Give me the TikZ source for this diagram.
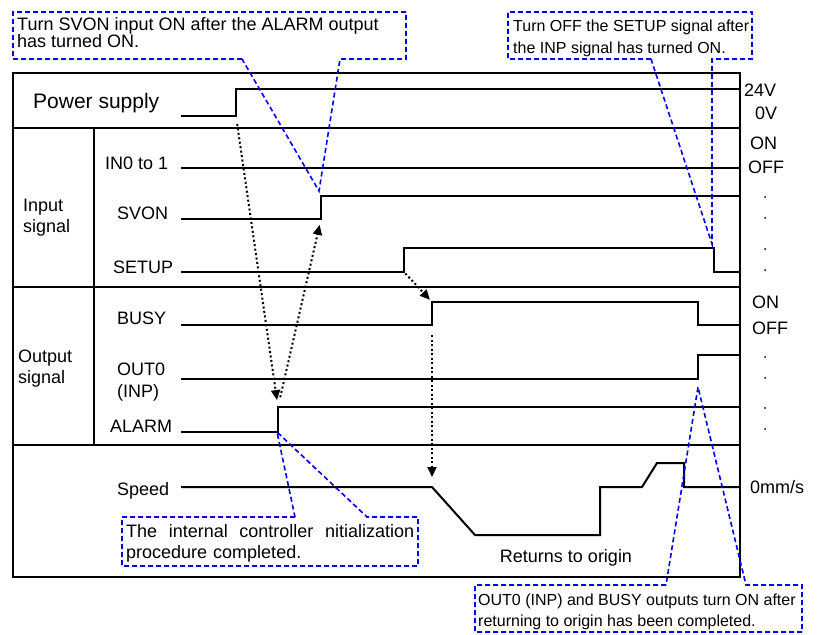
\documentclass[tikz,border=0pt]{standalone}
\usepackage{fontspec}
\setmainfont{Liberation Sans}
\usetikzlibrary{arrows.meta}

\begin{document}
\begin{tikzpicture}[x=1pt, y=-1pt,
    every node/.style={font=\fontsize{18}{21}\selectfont, inner sep=0pt},
    grouplabel/.style={anchor=base west, align=left},
    siglabel/.style={anchor=base west},
    levellabel/.style={anchor=base west},
    frameline/.style={line width=2pt},
    sigline/.style={line width=2pt},
    dotarrow/.style={line width=2pt, dash pattern=on 2pt off 2.5pt, -{Triangle[length=10pt, width=9pt]}},
    callout/.style={draw=blue, line width=1.6pt, dash pattern=on 5pt off 3pt},
    notetext/.style={anchor=base west, align=left},
]
\useasboundingbox (0,0) rectangle (818,634);
% frame and rows
\draw[frameline] (13,73) rectangle (740,577);
\foreach \y in {128,287,445}
    \draw[frameline] (13,\y) -- (740,\y);
\draw[frameline] (94,128) -- (94,445);
\node[grouplabel, font=\fontsize{21}{24}\selectfont] (power) at (33,108) {Power supply};
\node[grouplabel] (input) at (23,232) {Input\\signal};
\node[grouplabel] (output) at (18,383) {Output\\signal};
\node[siglabel] (in01) at (105,169) {IN0 to 1};
\node[siglabel] (svon) at (117,219) {SVON};
\node[siglabel] (setup) at (113,273) {SETUP};
\node[siglabel] (busy) at (117,324) {BUSY};
\node[siglabel, align=left, font=\fontsize{18}{22}\selectfont] (out0) at (117,397) {OUT0\\(INP)};
\node[siglabel] (alarm) at (110,432) {ALARM};
\node[siglabel] (speed) at (117,495) {Speed};
\node[levellabel] (v24) at (744,96) {24V};
\node[levellabel] (v0) at (755,119) {0V};
\node[levellabel] (inon) at (750,149) {ON};
\node[levellabel] (inoff) at (748,173) {OFF};
\node[levellabel] (outon) at (752,308) {ON};
\node[levellabel] (outoff) at (752,334) {OFF};
\node[levellabel] (zero) at (750,493) {0mm/s};
\node[anchor=base] (origin) at (566,562) {Returns to origin};
\foreach \y in {197,218,249,270,357,378,408,429}
    \fill (765,\y) circle (1pt);
% signal traces
\coordinate (pwron) at (236,116);
\coordinate (svonlow) at (321,219);
\coordinate (svonhigh) at (321,196);
\coordinate (setupon) at (404,272);
\coordinate (setupoff) at (714,248);
\coordinate (busylow) at (432,325);
\coordinate (busyhigh) at (432,302);
\coordinate (inpon) at (698,379);
\coordinate (alarmlow) at (278,432);
\coordinate (alarmhigh) at (278,407);
\coordinate (spdstart) at (432,487);
\draw[sigline] (181,116) -- (pwron) -- (236,89) -- (740,89);
\draw[sigline] (181,168) -- (740,168);
\draw[sigline] (181,219) -- (svonlow) -- (svonhigh) -- (740,196);
\draw[sigline] (181,272) -- (setupon) -- (404,248) -- (setupoff) -- (714,272) -- (740,272);
\draw[sigline] (181,325) -- (busylow) -- (busyhigh) -- (698,302) -- (698,325) -- (740,325);
\draw[sigline] (181,379) -- (inpon) -- (698,355) -- (740,355);
\draw[sigline] (181,432) -- (alarmlow) -- (alarmhigh) -- (740,407);
\draw[sigline] (181,487) -- (spdstart) -- (475,535) -- (600,535) -- (600,487) -- (642,487) -- (657,463) -- (684,463) -- (684,487) -- (740,487);
\draw[dotarrow, shorten <=8pt, shorten >=7pt] (pwron) -- (alarmhigh);
\draw[dotarrow, shorten <=10pt, shorten >=6pt] (alarmhigh) -- (svonlow);
\draw[dotarrow, shorten <=2pt, shorten >=3pt] (setupon) -- (busyhigh);
\draw[dotarrow, shorten <=10pt, shorten >=10pt] (busylow) -- (spdstart);
% callouts
\coordinate (tipA) at (319,191);
\coordinate (tipB) at (712,244);
\coordinate (tipC) at (277,432);
\coordinate (tipD) at (698,387);
\draw[callout] (242,59) -- (13,59) -- (13,12) -- (406,12) -- (406,59) -- (340,59) -- (tipA) -- cycle;
\node[notetext, font=\fontsize{18}{17}\selectfont] (noteA) at (17,47.7) {Turn SVON input ON after the ALARM output\\has turned ON.};
\draw[callout] (651,59) -- (508,59) -- (508,12) -- (752,12) -- (752,59) -- (712,59) -- (tipB) -- cycle;
\node[notetext, font=\fontsize{16}{22}\selectfont] (noteB) at (513,53.3) {Turn OFF the SETUP signal after\\the INP signal has turned ON.};
\draw[callout] (295,517) -- (122,517) -- (122,566) -- (418,566) -- (418,517) -- (367,517) -- (tipC) -- cycle;
\node[notetext, text width=288pt] (noteC) at (126,537.7) {The\hfill internal\hfill controller\hfill nitialization\\procedure completed.};
\draw[callout] (666,585) -- (475,585) -- (475,632) -- (802,632) -- (802,585) -- (746,585) -- (tipD) -- cycle;
\node[notetext, font=\fontsize{16}{21}\selectfont] (noteD) at (478,626.7) {OUT0 (INP) and BUSY outputs turn ON after\\returning to origin has been completed.};
\end{tikzpicture}
\end{document}
